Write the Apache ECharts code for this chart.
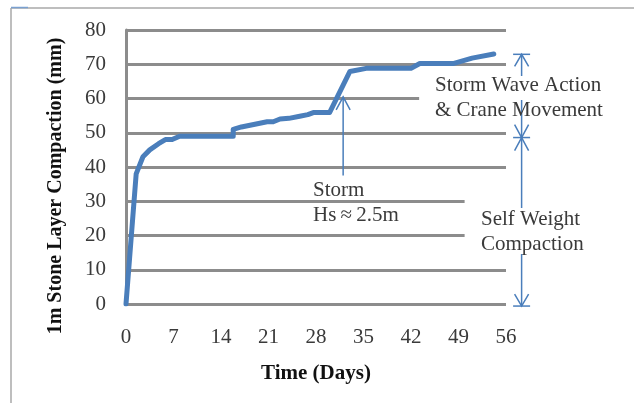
<!DOCTYPE html>
<html>
<head>
<meta charset="utf-8">
<script src="https://cdn.jsdelivr.net/npm/echarts@6/dist/echarts.min.js"></script>
<style>
html,body{margin:0;padding:0;background:#fff;}
#c{width:634px;height:403px;}
</style>
</head>
<body>
<div id="c"></div>
<script>
// Data
const days =       [0, 1.5, 2.5, 3.5, 4.8, 5.8, 6.8, 7.9, 15.8, 15.8, 17, 19, 20.8, 21.7, 22.7, 24, 25.6, 26.8, 27.6, 30, 33, 35.4, 42, 43.3, 48.2, 51, 54.2];
const compaction = [0, 38, 43, 45, 46.8, 48, 48, 49, 49, 51, 51.7, 52.5, 53.2, 53.2, 54, 54.2, 54.8, 55.3, 55.9, 55.9, 67.9, 68.8, 68.8, 70.2, 70.2, 71.8, 73];
const xTicks = [0, 7, 14, 21, 28, 35, 42, 49, 56];
const yTicks = [0, 10, 20, 30, 40, 50, 60, 70, 80];

const FONT = 'Liberation Serif';
const TXT = '#3a3a3a';
const BLUE = '#4a7ebb';
const GRID = '#8c8c8c';

const chart = echarts.init(document.getElementById('c'), null, {renderer: 'canvas'});
const seriesData = days.map((d, i) => [d, compaction[i]]);

chart.setOption({
  animation: false,
  backgroundColor: '#fff',
  grid: {left: 126, right: 128, top: 30, bottom: 99, containLabel: false},
  xAxis: {
    type: 'value', min: xTicks[0], max: xTicks[xTicks.length - 1], interval: 7,
    name: 'Time (Days)', nameLocation: 'middle', nameGap: 59,
    nameTextStyle: {fontFamily: FONT, fontWeight: 'bold', fontSize: 21, color: '#111'},
    axisLine: {show: false}, axisTick: {show: false},
    splitLine: {show: false},
    axisLabel: {fontFamily: FONT, fontSize: 21, color: TXT, margin: 23}
  },
  yAxis: {
    type: 'value', min: yTicks[0], max: yTicks[yTicks.length - 1], interval: 10,
    name: '1m Stone Layer Compaction (mm)', nameLocation: 'middle', nameGap: 60,
    nameTextStyle: {fontFamily: FONT, fontWeight: 'bold', fontSize: 20, color: '#111', padding: [0, 38, 0, 0]},
    axisLine: {show: true, lineStyle: {color: GRID, width: 3}},
    axisTick: {show: false},
    splitLine: {show: true, lineStyle: {color: GRID, width: 3}},
    axisLabel: {fontFamily: FONT, fontSize: 21, color: TXT, margin: 20}
  },
  series: [{
    type: 'line', data: seriesData, showSymbol: false, symbol: 'none',
    lineStyle: {color: BLUE, width: 5, cap: 'round', join: 'round'},
    z: 3
  }]
});

function px(x, y) { return chart.convertToPixel({gridIndex: 0}, [x, y]); }

const graphics = [];
// frame
graphics.push({type: 'line', shape: {x1: 11, y1: 8, x2: 634, y2: 8}, style: {stroke: '#a8a8a8', lineWidth: 1.5}, z: 100});
graphics.push({type: 'line', shape: {x1: 11, y1: 8, x2: 11, y2: 403}, style: {stroke: '#a8a8a8', lineWidth: 1.5}, z: 100});
graphics.push({type: 'line', shape: {x1: 11, y1: 7.5, x2: 28, y2: 7.5}, style: {stroke: '#7aa0d0', lineWidth: 1.5}, z: 101});

// white boxes that interrupt grid lines
const p60a = px(43.2, 60), p56 = px(56, 0);
graphics.push({type: 'rect', shape: {x: p60a[0], y: p60a[1] - 4, width: p56[0] - p60a[0] + 4, height: 8}, style: {fill: '#fff'}, z: 100});
const p30a = px(49.9, 30), p20 = px(49.9, 20);
graphics.push({type: 'rect', shape: {x: p30a[0], y: p30a[1] - 4, width: p56[0] - p30a[0] + 4, height: p20[1] - p30a[1] + 8}, style: {fill: '#fff'}, z: 100});

function upArrow(x, yTip, h, w) {
  return {type: 'polyline', shape: {points: [[x - w, yTip + h], [x, yTip], [x + w, yTip + h]]}, style: {stroke: BLUE, lineWidth: 1.5, fill: null}, z: 102};
}
function downArrow(x, yTip, h, w) {
  return {type: 'polyline', shape: {points: [[x - w, yTip - h], [x, yTip], [x + w, yTip - h]]}, style: {stroke: BLUE, lineWidth: 1.5, fill: null}, z: 102};
}
function vline(x, y1, y2) {
  return {type: 'line', shape: {x1: x, y1: y1, x2: x, y2: y2}, style: {stroke: BLUE, lineWidth: 1.5}, z: 102};
}
function hline(x1, x2, y) {
  return {type: 'line', shape: {x1: x1, y1: y, x2: x2, y2: y}, style: {stroke: BLUE, lineWidth: 1.5}, z: 102};
}
// storm arrow
const sTip = px(32, 60.5), sBot = px(32, 37.5);
graphics.push(vline(sTip[0], sTip[1], sBot[1]));
graphics.push(upArrow(sTip[0], sTip[1], 13, 7));

// right-hand brackets
const rTop = px(58.3, 72.9), rMid = px(58.3, 48.6), rBot = px(58.3, -0.6);
const ax = rTop[0];
graphics.push(hline(ax - 8.5, ax + 8.5, rTop[1]));
graphics.push(upArrow(ax, rTop[1], 12, 7));
graphics.push(vline(ax, rTop[1], 76));
graphics.push(vline(ax, 100, rMid[1]));
graphics.push(downArrow(ax, rMid[1], 13, 7));
graphics.push(hline(ax - 8.5, ax + 8.5, rMid[1]));
graphics.push(upArrow(ax, rMid[1], 13, 7));
graphics.push(vline(ax, rMid[1], 208));
graphics.push(vline(ax, 254, rBot[1]));
graphics.push(downArrow(ax, rBot[1], 12, 7));
graphics.push(hline(ax - 8.5, ax + 8.5, rBot[1]));

// annotation texts
function txt(x, y, s) {
  return {type: 'text', x: x, y: y, style: {text: s, font: '21px "' + FONT + '"', fill: TXT, textVerticalAlign: 'middle', textAlign: 'left'}, z: 103};
}
graphics.push(txt(313, 190, 'Storm'));
graphics.push(txt(313, 215, 'Hs\u2009\u2248\u20092.5m'));
graphics.push(txt(435, 85, 'Storm Wave Action'));
graphics.push(txt(435, 110, '& Crane Movement'));
graphics.push(txt(481, 219, 'Self Weight'));
graphics.push(txt(481, 244, 'Compaction'));

chart.setOption({graphic: graphics});
</script>
</body>
</html>
